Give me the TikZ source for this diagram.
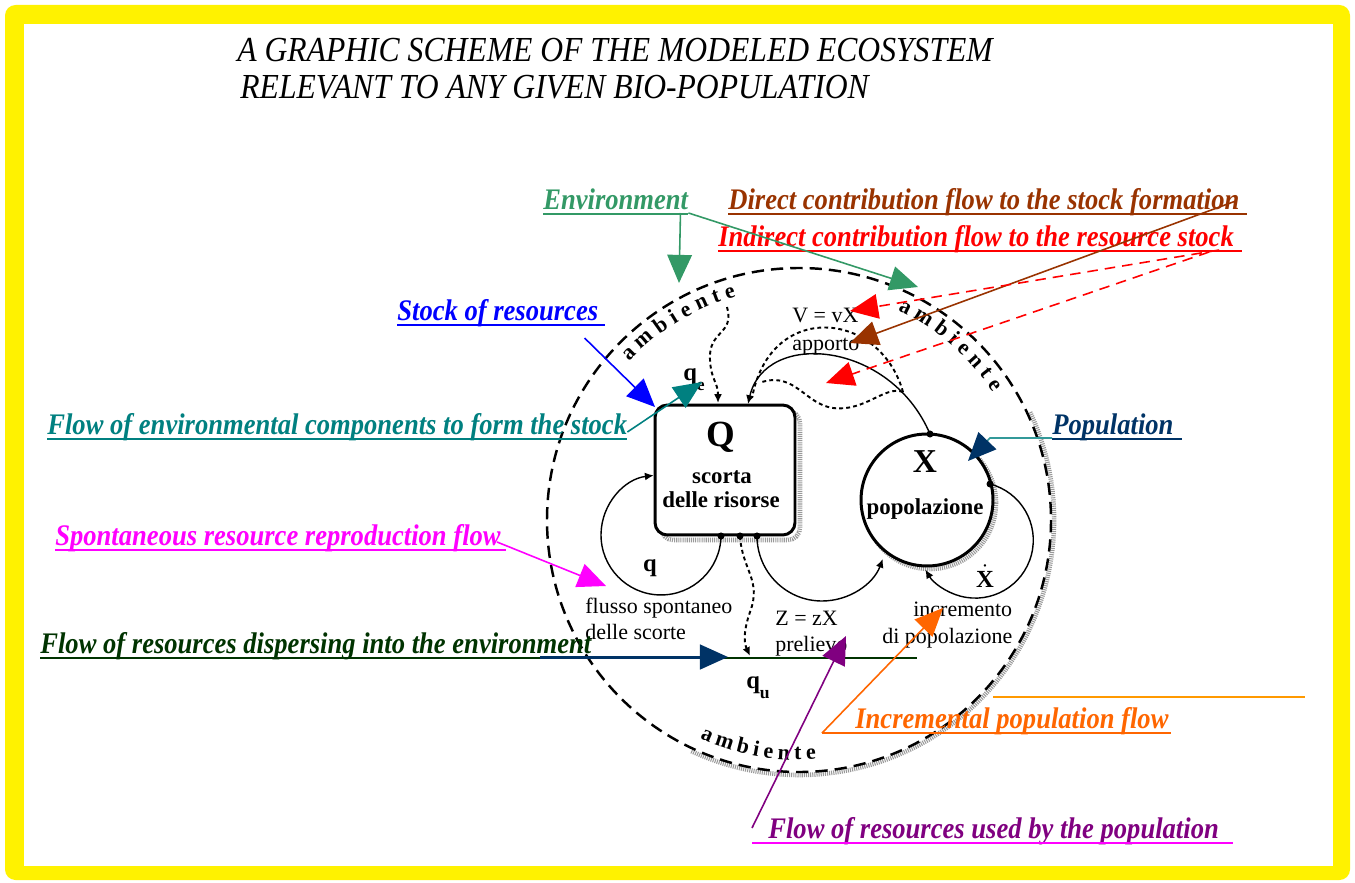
\documentclass[tikz,border=0pt]{standalone}
\usepackage{fontspec}
\setmainfont{Liberation Serif}
\newfontfamily\titlefont[FakeStretch=0.9]{Liberation Serif}
\newfontfamily\notefont[FakeStretch=0.89]{Liberation Serif}
\usepackage{xcolor}
\usepackage{tikz}
\usetikzlibrary{arrows.meta, positioning, calc}

\definecolor{envgreen}{HTML}{339966}
\definecolor{directbrown}{HTML}{993300}
\definecolor{stockblue}{HTML}{0000FF}
\definecolor{compteal}{HTML}{008080}
\definecolor{popnavy}{HTML}{003366}
\definecolor{popline}{HTML}{339999}
\definecolor{spontmagenta}{HTML}{FF00FF}
\definecolor{dispgreen}{HTML}{003300}
\definecolor{usedpurple}{HTML}{800080}
\definecolor{incorange}{HTML}{FF6600}
\definecolor{lightorange}{HTML}{FF9900}

\begin{document}
\begin{tikzpicture}[
    x=0.02cm, y=-0.02cm,
    every node/.style={inner sep=0pt},
    titletext/.style={font=\titlefont\itshape\fontsize{20}{24}\selectfont, anchor=base west},
    note/.style={font=\notefont\bfseries\itshape\fontsize{17}{20}\selectfont, anchor=base west},
    flow/.style={-{Triangle[length=16pt, width=14pt]}, line width=0.9pt},
    diagtext/.style={font=\fontsize{12.5}{14}\selectfont, anchor=base west},
    boldtext/.style={font=\bfseries\fontsize{13}{15}\selectfont},
    envletter/.style={font=\bfseries\fontsize{12.5}{13}\selectfont, anchor=base},
    envring/.style={line width=1.4pt, dash pattern=on 7pt off 4pt},
    stipple/.style={draw=black!40, line width=2.6pt, dash pattern=on 0.6pt off 0.6pt},
    loopflow/.style={line width=0.8pt, -{Latex[length=5pt, width=4.5pt]}},
    dotflow/.style={line width=1.1pt, dash pattern=on 2.2pt off 1.8pt},
    junction/.style={circle, fill=black, minimum size=4pt},
    stockbox/.style={draw, fill=white, line width=1.7pt, rounded corners=7pt, minimum width=2.8cm, minimum height=2.6cm},
    popcircle/.style={circle, draw, fill=white, line width=1.7pt, minimum size=2.64cm}
]

\useasboundingbox (0,0) rectangle (1355,882);
\fill[yellow, rounded corners=6pt] (5,5) rectangle (1350,880);
\fill[white] (24,24) rectangle (1333,866);

% Title
\node (title1) [titletext] at (237,62) {A GRAPHIC SCHEME OF THE MODELED ECOSYSTEM};
\node (title2) [titletext] at (240,99) {RELEVANT TO ANY GIVEN BIO-POPULATION};

% Environment ring
\coordinate (envc) at (799,520);
\draw[stipple] ($(envc)+(-25:255)$) arc[start angle=-25, end angle=115, radius=255];
\draw[envring] (envc) circle[radius=252];
\foreach \ch/\s [count=\i] in {a/0, m/20.7, b/42, i/57.1, e/71, n/88, t/103.7, e/118.2} {
  \node (ambtl\i) [envletter, rotate={45.7-0.2438*\s}] at ($(envc)+({224.3+0.2438*\s}:232)$) {\ch};
  \node (ambtr\i) [envletter, rotate={63.4-0.2438*\s-90}] at ($(envc)+({-63.4+0.2438*\s}:232)$) {\ch};
  \node (ambbt\i) [envletter, rotate={-23.1+0.22*\s}] at ($(envc)+({113.1-0.22*\s}:240)$) {\ch};
}

% Stock and population
\draw[stipple, rounded corners=7pt] (661,411) rectangle (800,540);
\node (stock) [stockbox] at (725,470) {};
\node (stockQ) [font=\bfseries\fontsize{21}{24}\selectfont, anchor=base] at (721,446) {Q};
\node (scorta) [boldtext, anchor=base] at (722,483) {scorta};
\node (risorse) [boldtext, anchor=base] at (721,507) {delle risorse};

\draw[stipple] (930,503) circle[radius=66];
\node (pop) [popcircle] at (927,500) {};
\node (popX) [font=\bfseries\fontsize{19}{22}\selectfont, anchor=base] at (925,472) {X};
\node (popname) [boldtext, anchor=base] at (925,514) {popolazione};

\node (jq) [junction] at (721,536) {};
\node (jqu) [junction] at (740,536) {};
\node (jz) [junction] at (757,536) {};
\node (jv) [junction] at (930,434) {};
\node (jdot) [junction] at (990,484) {};

% Flows of the model
\coordinate (vsplit) at (903,392);
\coordinate (qein) at (727,307);
\coordinate (qeend) at (718,403);
\coordinate (apend) at (748,404);
\coordinate (quend) at (750,656);

\draw[loopflow] (jq.center) arc[start angle=1, end angle=263, radius=60];
\draw[loopflow] (jz.center) arc[start angle=180, end angle=20.6, radius=65];
\draw[loopflow] (jdot.center) arc[start angle=-75.3, end angle=149.4, radius=58];
\draw[loopflow] (jv.center) .. controls (890,340) and (765,330) .. (apend);
\draw[dotflow] (vsplit) .. controls (880,310) and (770,300) .. (752,398);
\draw[dotflow] (vsplit) .. controls (885,385) and (865,412) .. (833,408) .. controls (805,404) and (795,372) .. (762,382);
\draw[dotflow, -{Latex[length=5pt, width=4.5pt]}] (qein) .. controls (735,335) and (708,330) .. (710,360) .. controls (711,380) and (718,382) .. (qeend);
\draw[dotflow, -{Latex[length=5pt, width=4.5pt]}] (jqu.center) .. controls (742,570) and (762,580) .. (750,612) .. controls (742,635) and (745,645) .. (quend);

% Model labels
\node (qelbl) [font=\bfseries\fontsize{14}{16}\selectfont, anchor=base] at (694,380) {q\raisebox{-6pt}{\fontsize{10}{12}\selectfont e}};
\node (qlbl) [font=\bfseries\fontsize{14}{16}\selectfont, anchor=base] at (650,571) {q};
\node (qulbl) [font=\bfseries\fontsize{14}{16}\selectfont, anchor=base] at (758,688) {q\raisebox{-6pt}{\fontsize{10}{12}\selectfont u}};
\node (xdot) [font=\bfseries\fontsize{14}{16}\selectfont, anchor=base] at (985,587) {$\dot{\mbox{\bfseries X}}$};
\node (vlbl) [diagtext] at (792,322) {V = vX};
\node (apporto) [diagtext] at (792,350) {apporto};
\node (flusso) [diagtext] at (585,613) {flusso spontaneo};
\node (scorte) [diagtext] at (585,639) {delle scorte};
\node (zlbl) [diagtext] at (775,625) {Z = zX};
\node (prelievo) [diagtext] at (775,651) {prelievo};
\node (increm) [diagtext] at (913,616) {incremento};
\node (dipop) [diagtext] at (882,643) {di popolazione};

% Notes
\node (env) [note, envgreen] at (543,209) {Environment};
\node (direct) [note, directbrown] at (728,209) {Direct contribution flow to the stock formation};
\node (indirect) [note, red] at (718,246) {Indirect contribution flow to the resource stock};
\node (stocklbl) [note, stockblue] at (397,320) {Stock of resources};
\node (comp) [note, compteal] at (47,434) {Flow of environmental components to form the stock};
\node (popn) [note, popnavy] at (1052,434) {Population};
\node (spont) [note, spontmagenta] at (55,545) {Spontaneous resource reproduction flow};
\node (disp) [note, dispgreen] at (40,653) {Flow of resources dispersing into the environment};
\node (incrnote) [note, incorange] at (855,728) {Incremental population flow};
\node (used) [note, usedpurple] at (768,838) {Flow of resources used by the population};

\foreach \n/\c/\l/\r in {env/envgreen/0/0, direct/directbrown/0/7, indirect/red/0/8,
    stocklbl/stockblue/0/6, comp/compteal/0/0, popn/popnavy/0/8, spont/spontmagenta/0/5,
    incrnote/incorange/33/2, used/spontmagenta/16/14}
  \draw[\c, line width=1pt] ($(\n.base west)+(-\l,5)$) -- ($(\n.base east)+(\r,5)$);

% Arrows
\coordinate (envtipA) at (679,283);
\coordinate (envtipB) at (918,287);
\coordinate (directtip) at (850,343);
\coordinate (indirtipA) at (850,311);
\coordinate (indirtipB) at (826,383);
\coordinate (stocktip) at (655,407);
\coordinate (comptip) at (702,382);
\coordinate (popbend) at (990,438);
\coordinate (poptip) at (968,461);
\coordinate (sponttip) at (606,586);
\coordinate (dispstart) at (540,657);
\coordinate (disptip) at (728,657);
\coordinate (dispend) at (917,658);
\coordinate (usedtip) at (846,636);
\coordinate (incrtip) at (943,608);
\coordinate (orangeA) at (993,697);
\coordinate (orangeB) at (1305,697);

\draw[dispgreen, line width=1pt] ($(disp.base west)+(0,5)$) -- (dispend);
\draw[flow, envgreen] ($(env.base east)+(-8,4)$) -- (envtipA);
\draw[flow, envgreen] ($(env.base east)+(0,4)$) -- (envtipB);
\draw[flow, directbrown] ($(direct.base east)+(-4,-8)$) -- (directtip);
\draw[flow, red, dash pattern=on 6pt off 4pt] ($(indirect.base east)+(-15,4)$) -- (indirtipA);
\draw[flow, red, dash pattern=on 6pt off 4pt] ($(indirect.base east)+(-25,6)$) -- (indirtipB);
\draw[flow, stockblue] ($(stocklbl.base east)+(-14,18)$) -- (stocktip);
\draw[flow, compteal] ($(comp.base east)+(0,-2)$) -- (comptip);
\draw[popline, line width=0.9pt, -{Triangle[length=16pt, width=14pt, color=popnavy]}] ($(popn.base west)+(0,4)$) -- (popbend) -- (poptip);
\draw[flow, spontmagenta] ($(spont.base east)+(-4,-3)$) -- (sponttip);
\draw[popnavy, line width=1.7pt, -{Triangle[length=16pt, width=14pt]}] (dispstart) -- (disptip);
\draw[flow, usedpurple] ($(used.base west)+(-16,-10)$) -- (usedtip);
\draw[flow, incorange] ($(incrnote.base west)+(-33,5)$) -- (incrtip);
\draw[lightorange, line width=1pt] (orangeA) -- (orangeB);

\end{tikzpicture}
\end{document}
